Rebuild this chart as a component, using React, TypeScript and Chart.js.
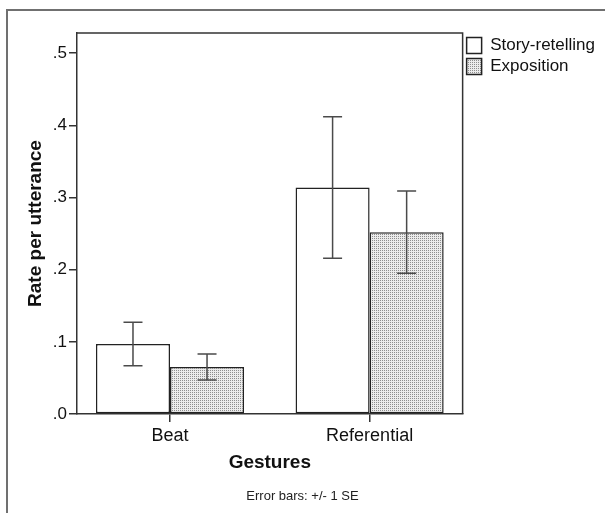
import React, { useEffect, useRef } from "react";
import { Chart, registerables } from "chart.js";

Chart.register(...registerables);

const categories = ["Beat", "Referential"];
const seriesNames = ["Story-retelling", "Exposition"];
const storyMeans = [0.097, 0.314];
const storySE = [0.03, 0.098];
const expoMeans = [0.065, 0.252];
const expoSE = [0.018, 0.057];
const yTicks = [0, 0.1, 0.2, 0.3, 0.4, 0.5];
const yMax = 0.528;
const xAxisTitle = "Gestures";
const yAxisTitle = "Rate per utterance";
const caption = "Error bars: +/- 1 SE";

const FONT = "'Liberation Sans', Arial, Helvetica, sans-serif";

function makePattern(ctx: CanvasRenderingContext2D) {
  const c = document.createElement("canvas");
  c.width = 2;
  c.height = 2;
  const p = c.getContext("2d")!;
  p.fillStyle = "#ececec";
  p.fillRect(0, 0, 2, 2);
  p.fillStyle = "#8e8e8e";
  p.fillRect(0, 0, 1, 1);
  return ctx.createPattern(c, "repeat")!;
}

const framePlugin = {
  id: "frame",
  beforeDraw(chart: any) {
    const { ctx, width, height } = chart;
    ctx.save();
    ctx.fillStyle = "#ffffff";
    ctx.fillRect(0, 0, width, height);
    ctx.strokeStyle = "#707070";
    ctx.lineWidth = 2;
    ctx.beginPath();
    ctx.moveTo(7, height);
    ctx.lineTo(7, 10);
    ctx.lineTo(width, 10);
    ctx.stroke();
    ctx.restore();
  },
  afterDraw(chart: any) {
    const { ctx, chartArea } = chart;
    ctx.save();
    ctx.strokeStyle = "#333333";
    ctx.lineWidth = 1.5;
    ctx.beginPath();
    ctx.moveTo(chartArea.left, chartArea.top);
    ctx.lineTo(chartArea.right, chartArea.top);
    ctx.lineTo(chartArea.right, chartArea.bottom);
    ctx.stroke();
    ctx.restore();
  },
};

const errorBarPlugin = {
  id: "errorBars",
  afterDatasetsDraw(chart: any) {
    const { ctx } = chart;
    const yScale = chart.scales.y;
    const seList = [storySE, expoSE];
    const meanList = [storyMeans, expoMeans];
    ctx.save();
    ctx.strokeStyle = "#4a4a4a";
    ctx.lineWidth = 1.5;
    chart.data.datasets.forEach((_ds: any, i: number) => {
      const meta = chart.getDatasetMeta(i);
      meta.data.forEach((el: any, j: number) => {
        const m = meanList[i][j];
        const se = seList[i][j];
        const yHi = yScale.getPixelForValue(m + se);
        const yLo = yScale.getPixelForValue(m - se);
        const x = el.x;
        const cap = 9.5;
        ctx.beginPath();
        ctx.moveTo(x, yHi);
        ctx.lineTo(x, yLo);
        ctx.moveTo(x - cap, yHi);
        ctx.lineTo(x + cap, yHi);
        ctx.moveTo(x - cap, yLo);
        ctx.lineTo(x + cap, yLo);
        ctx.stroke();
      });
    });
    ctx.restore();
  },
};

export default function App() {
  const ref = useRef<HTMLCanvasElement | null>(null);

  useEffect(() => {
    const canvas = ref.current!;
    const ctx = canvas.getContext("2d")!;
    const pattern = makePattern(ctx);
    Chart.defaults.font.family = FONT;

    const chart = new Chart(ctx, {
      type: "bar",
      data: {
        datasets: [
          {
            label: seriesNames[0],
            data: storyMeans.map((v, i) => ({ x: i, y: v })),
            backgroundColor: "#ffffff",
            borderColor: "#222222",
            borderWidth: 1.5,
            borderSkipped: false,
            categoryPercentage: 0.742,
            barPercentage: 1,
          },
          {
            label: seriesNames[1],
            data: expoMeans.map((v, i) => ({ x: i, y: v })),
            backgroundColor: pattern,
            borderColor: "#222222",
            borderWidth: 1.5,
            borderSkipped: false,
            categoryPercentage: 0.742,
            barPercentage: 1,
          },
        ],
      } as any,
      options: {
        responsive: false,
        animation: false,
        events: [],
        layout: { padding: { left: 0, top: 33, right: 0, bottom: 0 } },
        plugins: {
          legend: {
            position: "right",
            align: "start",
            labels: {
              boxWidth: 15,
              boxHeight: 16,
              padding: 4,
              color: "#111111",
              font: { size: 17, family: FONT },
            },
          },
          title: {
            display: true,
            position: "bottom",
            text: caption,
            color: "#222222",
            font: { size: 13, weight: "normal", family: FONT },
            padding: { top: 0, bottom: 9 },
          },
          tooltip: { enabled: false },
        },
        scales: {
          x: {
            type: "linear",
            min: -0.466,
            max: 1.466,
            offset: false,
            afterBuildTicks: (s: any) => {
              s.ticks = categories.map((_c, i) => ({ value: i }));
            },
            afterFit: (s: any) => {
              s.height = 74.4;
            },
            ticks: {
              callback: (v: any) => categories[v as number] ?? "",
              color: "#111111",
              font: { size: 18, family: FONT },
              padding: 3,
              autoSkip: false,
              maxRotation: 0,
            },
            grid: {
              offset: false,
              drawOnChartArea: false,
              drawTicks: true,
              tickLength: 8,
              color: "#333333",
              lineWidth: 1.5,
            },
            border: { color: "#333333", width: 1.5 },
            title: {
              display: true,
              text: xAxisTitle,
              color: "#111111",
              font: { size: 19, weight: "bold", family: FONT },
              padding: { top: 0, bottom: 14 },
            },
          },
          y: {
            min: 0,
            max: yMax,
            afterBuildTicks: (s: any) => {
              s.ticks = yTicks.map((v) => ({ value: v }));
            },
            afterFit: (s: any) => {
              s.width = 77;
            },
            ticks: {
              callback: (v: any) => Number(v).toFixed(1).replace(/^0/, ""),
              color: "#111111",
              font: { size: 17, family: FONT },
              padding: 2,
            },
            grid: {
              drawOnChartArea: false,
              drawTicks: true,
              tickLength: 8,
              color: "#333333",
              lineWidth: 1.5,
            },
            border: { color: "#333333", width: 1.5 },
            title: {
              display: true,
              text: yAxisTitle,
              color: "#111111",
              font: { size: 19, weight: "bold", family: FONT },
              padding: { top: 24, bottom: 0 },
            },
          },
        },
      } as any,
      plugins: [framePlugin, errorBarPlugin],
    });
    return () => chart.destroy();
  }, []);

  return (
    <div
      style={{
        position: "fixed",
        left: 0,
        top: 0,
        width: 605,
        height: 513,
        background: "#ffffff",
      }}
    >
      <canvas ref={ref} width={605} height={513} style={{ display: "block" }} />
    </div>
  );
}
